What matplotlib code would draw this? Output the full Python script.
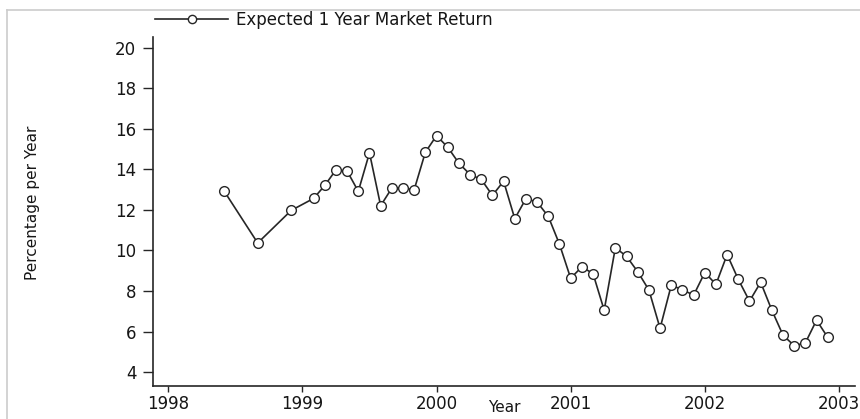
import matplotlib
matplotlib.use("Agg")
import matplotlib.pyplot as plt
from matplotlib.lines import Line2D

# ---- data ----
months = ["1998-06", "1998-09", "1998-12",
          "1999-02", "1999-03", "1999-04", "1999-05", "1999-06", "1999-07",
          "1999-08", "1999-09", "1999-10", "1999-11", "1999-12",
          "2000-01", "2000-02", "2000-03", "2000-04", "2000-05", "2000-06",
          "2000-07", "2000-08", "2000-09", "2000-10", "2000-11", "2000-12",
          "2001-01", "2001-02", "2001-03", "2001-04", "2001-05", "2001-06",
          "2001-07", "2001-08", "2001-09", "2001-10", "2001-11", "2001-12",
          "2002-01", "2002-02", "2002-03", "2002-04", "2002-05", "2002-06",
          "2002-07", "2002-08", "2002-09", "2002-10", "2002-11", "2002-12"]
expected_return = [12.93, 10.37, 11.98,
                   12.57, 13.21, 13.98, 13.92, 12.92, 14.82,
                   12.21, 13.08, 13.08, 13.00, 14.85,
                   15.67, 15.10, 14.31, 13.75, 13.51, 12.72,
                   13.42, 11.57, 12.56, 12.39, 11.68, 10.31,
                   8.63, 9.19, 8.86, 7.05, 10.14, 9.71,
                   8.95, 8.05, 6.16, 8.28, 8.07, 7.79,
                   8.91, 8.33, 9.80, 8.57, 7.50, 8.43,
                   7.05, 5.82, 5.30, 5.44, 6.56, 5.71]
x_ticks = [1998, 1999, 2000, 2001, 2002, 2003]
y_ticks = [4, 6, 8, 10, 12, 14, 16, 18, 20]
series_label = "Expected 1 Year Market Return"
x_label = "Year"
y_label = "Percentage per Year"

# decimal-year positions from the month strings
x_vals = [int(m[:4]) + (int(m[5:]) - 1) / 12.0 for m in months]

plt.rcParams['font.family'] = ['DejaVu Sans']

W, H = 860, 419
fig = plt.figure(figsize=(W / 100, H / 100), dpi=100)
fig.patch.set_facecolor('white')

# light frame of the scanned figure (top and left edges)
fig.add_artist(Line2D([7 / W, 1.0], [1 - 10 / H, 1 - 10 / H],
                      transform=fig.transFigure, color='#cccccc', lw=1.2))
fig.add_artist(Line2D([7 / W, 7 / W], [0.0, 1 - 10 / H],
                      transform=fig.transFigure, color='#cccccc', lw=1.2))

ax_left, ax_right = 153 / W, 855 / W
ax_bottom, ax_top = (H - 386) / H, (H - 37) / H
ax = fig.add_axes([ax_left, ax_bottom, ax_right - ax_left, ax_top - ax_bottom])

ink = '#262626'
txt = '#161616'
line, = ax.plot(x_vals, expected_return, color=ink, lw=1.2,
                marker='o', markersize=7.0, markerfacecolor='white',
                markeredgecolor=ink, markeredgewidth=1.0,
                label=series_label)

ax.set_xlim(1997.886, 2003.12)
ax.set_ylim(3.31, 20.54)
ax.set_xticks(x_ticks)
ax.set_yticks(y_ticks)
ax.set_xticklabels([str(t) for t in x_ticks])
ax.set_yticklabels([str(t) for t in y_ticks])

for s in ['top', 'right']:
    ax.spines[s].set_visible(False)
for s in ['left', 'bottom']:
    ax.spines[s].set_color(ink)
    ax.spines[s].set_linewidth(1.2)

ax.tick_params(axis='x', direction='out', length=4, width=1.0, color=ink,
               pad=2.5, labelsize=12, labelcolor=txt)
ax.tick_params(axis='y', direction='out', length=7, width=1.0, color=ink,
               pad=5.0, labelsize=12, labelcolor=txt)

ax.set_xlabel(x_label, fontsize=11, color=txt)
ax.xaxis.set_label_coords(0.5, (386 - 400) / (386 - 37))
ax.set_ylabel(y_label, fontsize=11, color=txt)
ax.yaxis.set_label_coords((33 - 153) / (855 - 153), (386 - 203) / (386 - 37))
ax.yaxis.label.set_va('center')

fig.legend(handles=[line], loc='center left',
           bbox_to_anchor=(155 / W, 1 - 20 / H), frameon=False,
           fontsize=12, handlelength=4.4, handletextpad=0.45,
           borderpad=0, borderaxespad=0, numpoints=1, markerscale=0.85,
           labelcolor=txt)

fig.savefig('out.png', dpi=100, facecolor='white')
